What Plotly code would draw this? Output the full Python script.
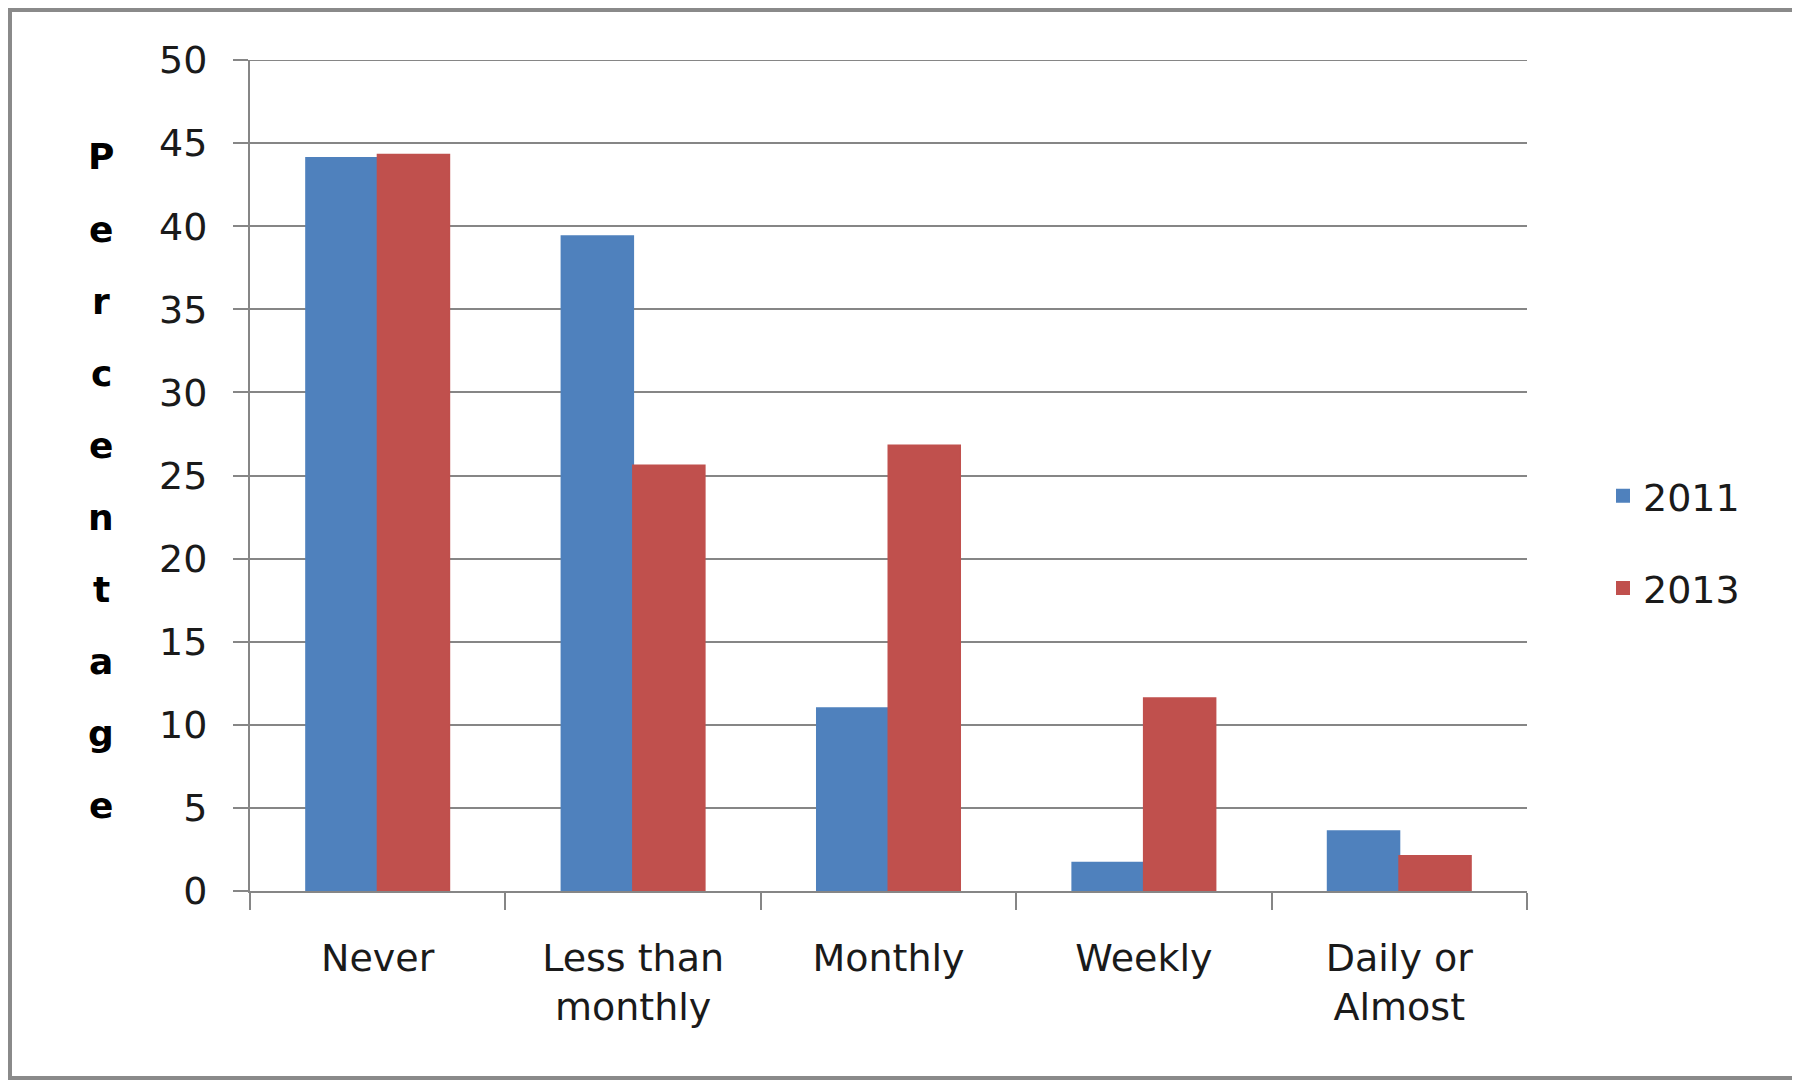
import plotly.graph_objects as go

categories = ["Never", "Less than<br>monthly", "Monthly", "Weekly", "Daily or<br>Almost"]
values_2011 = [44.1, 39.4, 11.0, 1.7, 3.6]
values_2013 = [44.3, 25.6, 26.8, 11.6, 2.1]
series_names = ["2011", "2013"]
y_title = "Percentage"

# page body has an 8px margin, so the figure is offset by 8px in the window
OFF = 8
W, H = 1800 - OFF, 1080 - OFF
L, T = 250 - OFF, 60 - OFF
R = W - (1527 - OFF)
B = H - (891 - OFF)
pw, ph = W - L - R, H - T - B
FONT = "DejaVu Sans"

fig = go.Figure()
fig.add_trace(go.Bar(x=categories, y=values_2011, name=series_names[0],
                     marker=dict(color="#4F81BD", line=dict(width=2, color="#4F81BD")),
                     legendgroup="a"))
fig.add_trace(go.Bar(x=categories, y=values_2013, name=series_names[1],
                     marker=dict(color="#C0504D", line=dict(width=2, color="#C0504D")),
                     legendgroup="b"))

# vertical stacked y-axis title letters
top_px, step_px = 157 - OFF, 72.1
for i, ch in enumerate(y_title):
    ypx = top_px + i * step_px
    fig.add_annotation(text=f"<b>{ch}</b>", xref="paper", yref="paper",
                       x=(101 - OFF - L) / pw, y=(H - B - ypx) / ph,
                       showarrow=False, xanchor="center", yanchor="middle",
                       font=dict(family=FONT, size=36, color="#000000"))

# top gridline at 50 (plotly drops gridline on plot edge)
fig.add_shape(type="line", xref="paper", yref="y", x0=0, x1=1, y0=50, y1=50,
              line=dict(color="#868686", width=2), layer="below")

# outer chart border
fig.add_shape(type="rect", xref="paper", yref="paper",
              x0=(2 - L) / pw, x1=(W - 2 - L) / pw,
              y0=-(B - 2) / ph, y1=(H - B - 2) / ph,
              line=dict(color="#8a8a8a", width=4), fillcolor="rgba(0,0,0,0)", layer="below")

fig.update_layout(
    width=W, height=H,
    margin=dict(l=L, r=R, t=T, b=B, pad=0, autoexpand=False),
    paper_bgcolor="white", plot_bgcolor="white",
    barmode="group", bargap=0.44, bargroupgap=0,
    font=dict(family=FONT, size=38, color="#1a1a1a"),
    showlegend=True,
    legend=dict(x=(1603 - OFF - L) / pw, y=(H - B - (542 - OFF)) / ph, xanchor="left", yanchor="middle",
                font=dict(family=FONT, size=38, color="#1a1a1a"),
                traceorder="grouped", tracegroupgap=40,
                bgcolor="rgba(0,0,0,0)"),
    xaxis=dict(showline=True, linecolor="#868686", linewidth=2,
               ticks="outside", tickson="boundaries", ticklen=17, tickwidth=2, tickcolor="#868686",
               showgrid=False, ticklabelstandoff=32,
               tickfont=dict(family=FONT, size=38, color="#1a1a1a")),
    yaxis=dict(range=[0, 50], dtick=5, tick0=0,
               showline=True, linecolor="#868686", linewidth=2,
               ticks="outside", ticklen=15, tickwidth=2, tickcolor="#868686",
               showgrid=True, gridcolor="#868686", gridwidth=2, zeroline=False,
               ticklabelstandoff=18,
               tickfont=dict(family=FONT, size=38, color="#1a1a1a")),
)

fig.write_html("out.html")
